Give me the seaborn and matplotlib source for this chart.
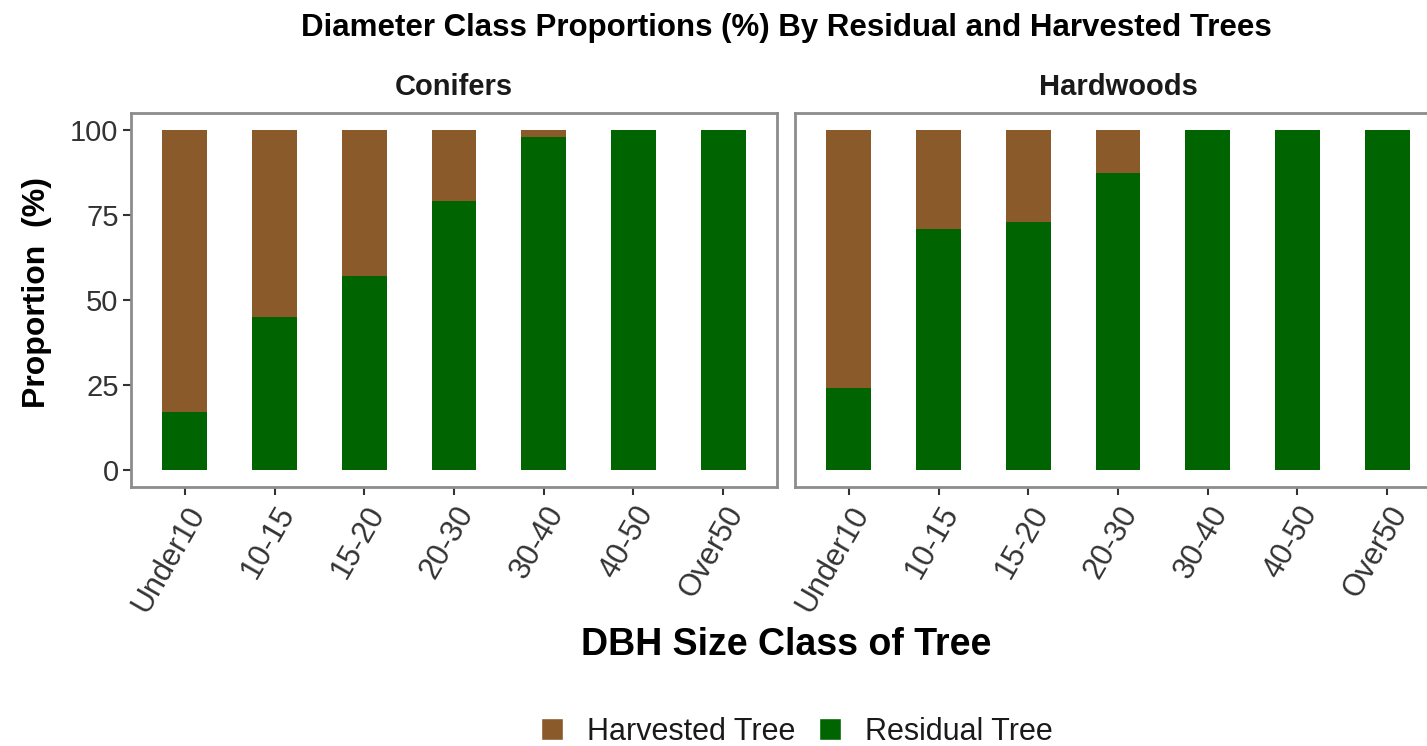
import matplotlib
matplotlib.use('Agg')
import matplotlib.pyplot as plt
from matplotlib.patches import Patch
import pandas as pd
import seaborn as sns


CLASSES = ['Under10', '10-15', '15-20', '20-30', '30-40', '40-50', 'Over50']
GROUPS = ['Conifers', 'Hardwoods']
CONIFER_RESIDUAL = [17, 45, 57, 79, 98, 100, 100]
CONIFER_HARVESTED = [83, 55, 43, 21, 2, 0, 0]
HARDWOOD_RESIDUAL = [24, 71, 73, 87.5, 100, 100, 100]
HARDWOOD_HARVESTED = [76, 29, 27, 12.5, 0, 0, 0]

BROWN = '#8B5A2B'
GREEN = '#006400'
BORDER = '#8c8c8c'
TEXT = '#333333'
FONT = 'Liberation Sans'


df = pd.DataFrame({
    'Group': [GROUPS[0]] * len(CLASSES) + [GROUPS[1]] * len(CLASSES),
    'Class': CLASSES * 2,
    'Residual': CONIFER_RESIDUAL + HARDWOOD_RESIDUAL,
    'Harvested': CONIFER_HARVESTED + HARDWOOD_HARVESTED,
})
df['Total'] = df['Residual'] + df['Harvested']

sns.set_style('white')
plt.rcParams['font.family'] = [FONT, 'DejaVu Sans']

W, H = 1427, 746
fig = plt.figure(figsize=(W / 100, H / 100), dpi=100)

panels = [(131, 113, 646, 374), (795, 113, 646, 374)]
for i, (grp, (px, py, pw, ph)) in enumerate(zip(GROUPS, panels)):
    ax = fig.add_axes([px / W, 1 - (py + ph) / H, pw / W, ph / H])
    sub = df[df['Group'] == grp]
    # stacked look: full bar in brown, residual share painted on top in green
    sns.barplot(data=sub, x='Class', y='Total', order=CLASSES, color=BROWN,
                width=0.5, saturation=1, linewidth=0, ax=ax)
    sns.barplot(data=sub, x='Class', y='Residual', order=CLASSES, color=GREEN,
                width=0.5, saturation=1, linewidth=0, ax=ax)
    ax.set_xlim(-0.6, 6.6)
    ax.set_ylim(-5, 105)
    ax.set_xlabel('')
    ax.set_ylabel('')
    for sp in ax.spines.values():
        sp.set_visible(True)
        sp.set_color(BORDER)
        sp.set_linewidth(2)
    ax.tick_params(axis='x', length=6, width=1.5, color=TEXT, labelsize=22,
                   labelcolor=TEXT, bottom=True, pad=4)
    ax.set_xticks(range(len(CLASSES)))
    ax.set_xticklabels(CLASSES, rotation=60, ha='right', va='top',
                       rotation_mode='anchor')
    if i == 0:
        ax.set_yticks([0, 25, 50, 75, 100])
        ax.tick_params(axis='y', length=6, width=1.5, color=TEXT,
                       labelsize=21, labelcolor=TEXT, left=True, pad=3)
    else:
        ax.set_yticks([])
    ax.text(0.5, 1.07, grp, transform=ax.transAxes, ha='center', va='center',
            fontsize=21, fontweight='bold', color='#1a1a1a')

fig.text(786 / W, 1 - 28 / H,
         'Diameter Class Proportions (%) By Residual and Harvested Trees',
         ha='center', va='center', fontsize=22.5, fontweight='bold',
         color='black')
fig.text(37 / W, 1 - 293 / H, 'Proportion  (%)', rotation=90,
         ha='center', va='center', fontsize=23, fontweight='bold',
         color='black')
fig.text(786 / W, 1 - 645 / H, 'DBH Size Class of Tree', ha='center',
         va='center', fontsize=27, fontweight='bold', color='black')

handles = [Patch(facecolor=BROWN, label='Harvested Tree'),
           Patch(facecolor=GREEN, label='Residual Tree')]
fig.legend(handles=handles, loc='center', bbox_to_anchor=(797 / W, 1 - 732 / H),
           ncol=2, frameon=False, fontsize=22, handlelength=0.72,
           handleheight=0.72, handletextpad=0.8, columnspacing=0.75,
           labelcolor='#1a1a1a')

fig.savefig('out.png', dpi=100)
